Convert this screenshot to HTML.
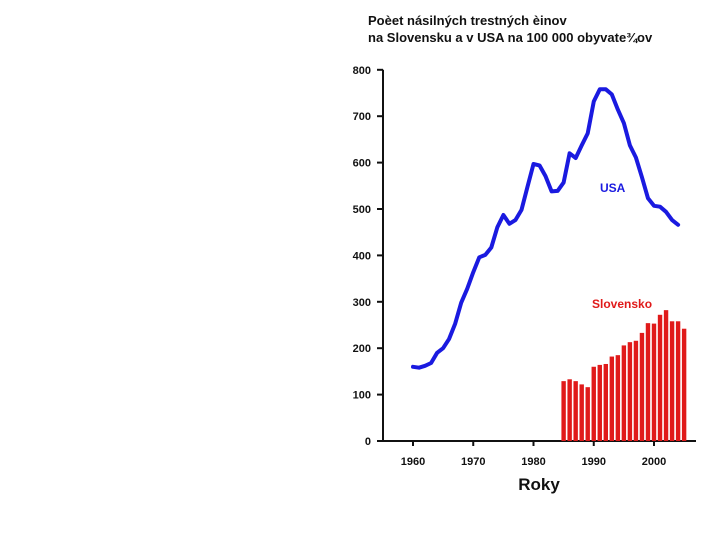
<!DOCTYPE html>
<html><head><meta charset="utf-8"><style>
body{margin:0;background:#fff;}
svg{display:block;font-family:"Liberation Sans",sans-serif;}
</style></head><body>
<svg id="c" width="720" height="540">
<text x="368" y="25" font-size="13" font-weight="bold" fill="#111">Poèet násilných trestných èinov</text>
<text x="368" y="42" font-size="13" font-weight="bold" fill="#111">na Slovensku a v USA na 100 000 obyvate¾ov</text>
<g id="ax"></g>
<g id="bars"></g>
<path id="usa" fill="none" stroke="#1a1ae0" stroke-width="4" stroke-linejoin="round" stroke-linecap="round"/>
<text x="600" y="192" font-size="12" font-weight="bold" fill="#1a1ae0">USA</text>
<text x="592" y="308" font-size="12" font-weight="bold" fill="#e01a1a">Slovensko</text>
<text x="539" y="490" font-size="17" font-weight="bold" text-anchor="middle" fill="#111">Roky</text>
</svg>
<script>
const usaYears=[1960,1961,1962,1963,1964,1965,1966,1967,1968,1969,1970,1971,1972,1973,1974,1975,1976,1977,1978,1979,1980,1981,1982,1983,1984,1985,1986,1987,1988,1989,1990,1991,1992,1993,1994,1995,1996,1997,1998,1999,2000,2001,2002,2003,2004];
const usaValues=[160,158,162,168,190,200,220,253,298,328,364,396,401,417,461,487,468,476,498,548,597,594,571,538,539,557,620,610,637,663,732,758,758,747,714,685,637,611,568,523,507,505,494,476,466];
const skYears=[1985,1986,1987,1988,1989,1990,1991,1992,1993,1994,1995,1996,1997,1998,1999,2000,2001,2002,2003,2004,2005];
const skValues=[129,133,129,122,116,160,164,166,182,185,206,213,216,233,254,253,272,282,258,258,242];
const yTicks=[0,100,200,300,400,500,600,700,800];
const xTicks=[1960,1970,1980,1990,2000];
const NS="http://www.w3.org/2000/svg";
const X=y=>413+(y-1960)*6.025;
const Y=v=>441-v*0.464;
function mk(t,a,p){const e=document.createElementNS(NS,t);for(const k in a)e.setAttribute(k,a[k]);p.appendChild(e);return e;}
const ax=document.getElementById('ax');
let l=mk('line',{x1:383,y1:Y(800),x2:383,y2:441,stroke:'#111','stroke-width':2},ax);


l=mk('line',{x1:382,y1:441,x2:696,y2:441,stroke:'#111','stroke-width':2},ax);


yTicks.forEach(v=>{
 const t=mk('line',{x1:377,y1:Y(v),x2:383,y2:Y(v),stroke:'#111','stroke-width':2},ax);
 
 
 const tx=mk('text',{x:371,y:Y(v)+4,'font-size':11,'font-weight':'bold','text-anchor':'end',fill:'#111'},ax);
 tx.textContent=v;
 
 
});
xTicks.forEach(v=>{
 const t=mk('line',{x1:X(v),y1:441,x2:X(v),y2:446,stroke:'#111','stroke-width':2},ax);
 
 
 const tx=mk('text',{x:X(v),y:465,'font-size':11,'font-weight':'bold','text-anchor':'middle',fill:'#111'},ax);
 tx.textContent=v;
 
 
});
const bars=document.getElementById('bars');
skYears.forEach((yr,i)=>{
 const r=mk('rect',{x:X(yr)-2.2,y:Y(skValues[i]),width:4.4,height:441-Y(skValues[i]),fill:'#e01a1a'},bars);
 
 
});
document.getElementById('usa').setAttribute('d',usaYears.map((yr,i)=>(i?'L':'M')+X(yr).toFixed(1)+','+Y(usaValues[i]).toFixed(1)).join(' '));
</script>
</body></html>
